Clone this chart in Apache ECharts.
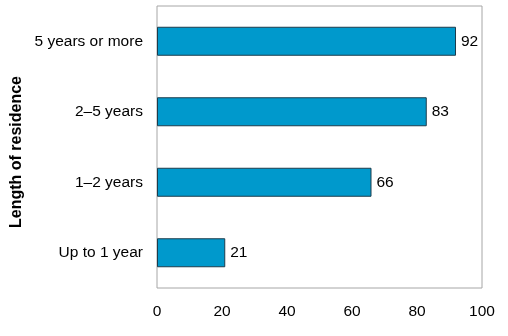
<!DOCTYPE html>
<html>
<head>
<meta charset="utf-8">
<script src="https://cdn.jsdelivr.net/npm/echarts@6/dist/echarts.min.js"></script>
<style>
  html, body { margin: 0; padding: 0; background: #ffffff; }
  #chart { width: 508px; height: 336px; }
</style>
</head>
<body>
<div id="chart"></div>
<script>
// Length of residence categories, listed bottom to top
const categories = ['Up to 1 year', '1\u20132 years', '2\u20135 years', '5 years or more'];
const values = [21, 66, 83, 92];
const xTicks = [0, 20, 40, 60, 80, 100];

const FONT = '"Liberation Sans", Arial, sans-serif';

const chart = echarts.init(document.getElementById('chart'), null, { renderer: 'canvas' });

chart.setOption({
  animation: false,
  backgroundColor: '#ffffff',
  grid: {
    left: 157,
    right: 26,
    top: 6,
    bottom: 48,
    show: true,
    borderColor: '#a6a6a6',
    borderWidth: 1,
    containLabel: false
  },
  xAxis: {
    type: 'value',
    min: xTicks[0],
    max: xTicks[xTicks.length - 1],
    interval: 20,
    axisLine: { show: false },
    axisTick: { show: false },
    splitLine: { show: false },
    axisLabel: {
      color: '#000000',
      fontFamily: FONT,
      fontSize: 15.5,
      margin: 16
    }
  },
  yAxis: {
    type: 'category',
    data: categories,
    axisLine: { show: false },
    axisTick: { show: false },
    splitLine: { show: false },
    axisLabel: {
      color: '#000000',
      fontFamily: FONT,
      fontSize: 15.5,
      margin: 14
    }
  },
  graphic: [{
    // vertical axis title, reading bottom to top
    type: 'text',
    x: 9,
    y: 228,
    rotation: Math.PI / 2,
    style: {
      text: 'Length of residence',
      font: 'bold 16px ' + FONT,
      fill: '#000000'
    }
  }],
  series: [{
    type: 'bar',
    data: values,
    barWidth: 29,
    itemStyle: {
      color: '#0099cc',
      borderColor: '#1c3c4c',
      borderWidth: 1
    },
    label: {
      show: true,
      position: 'right',
      distance: 5,
      color: '#000000',
      fontFamily: FONT,
      fontSize: 15.5
    }
  }]
});
</script>
</body>
</html>
